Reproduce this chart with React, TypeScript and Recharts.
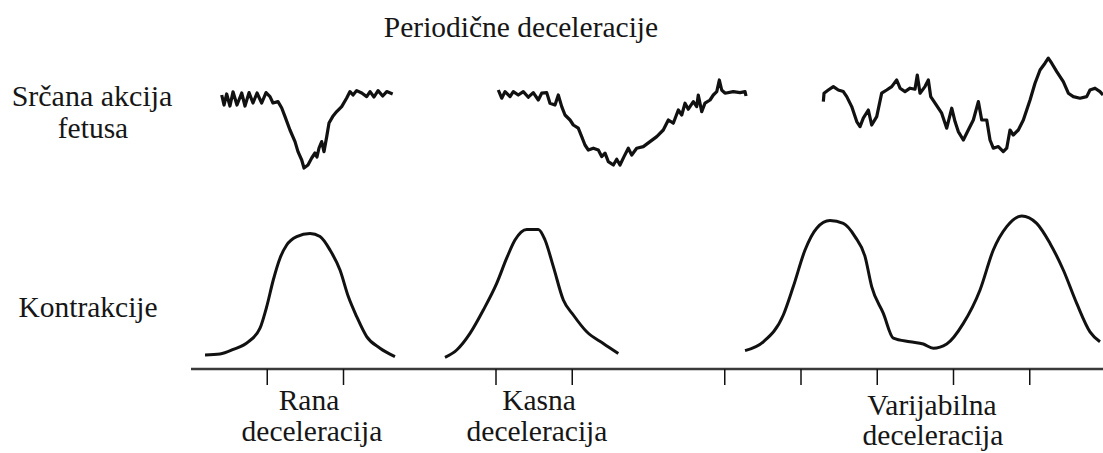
import React from "react";
import { LineChart, Line, XAxis, YAxis } from "recharts";

// x: time in tick units, y: heart rate (bpm) for FHR, pressure for contractions
const ranaFhrX = [0.403,0.433,0.468,0.511,0.551,0.603,0.665,0.708,0.761,0.813,0.866,0.927,0.984,1.036,1.075,1.141,1.19,1.233,1.298,1.364,1.403,1.452,1.482,1.534,1.583,1.626,1.652,1.679,1.714,1.744,1.78,1.81,1.858,1.911,1.976,2.042,2.085,2.125,2.173,2.239,2.304,2.348,2.4,2.453,2.514,2.567,2.645];
const ranaFhrY = [137,132,137.5,131.5,138.6,132,138,131.5,138.2,133,138,133,138.2,136.2,133,133.7,130.5,126.2,119.5,113.7,108.7,104.5,100.5,102,105.5,108,106,110.5,113.7,108.7,116.2,123,126.2,128.7,131.2,135.5,138.7,137,139.2,138,136.2,138.7,136,139.2,136.5,138.7,137.5];

const kasnaFhrX = [4.03,4.075,4.118,4.184,4.227,4.292,4.358,4.424,4.489,4.555,4.599,4.665,4.708,4.774,4.817,4.862,4.905,4.971,5.014,5.079,5.124,5.167,5.211,5.276,5.342,5.386,5.43,5.473,5.539,5.583,5.626,5.679,5.735,5.78,5.845,5.932,6.02,6.108,6.194,6.26,6.325,6.391,6.436,6.479,6.522,6.588,6.632,6.653,6.698,6.741,6.807,6.85,6.895,6.929,6.96,7.003,7.112,7.2,7.266,7.279];
const kasnaFhrY = [139.5,135.4,138.7,136.2,138.7,137,138.7,135.9,138.2,134.5,137.9,138.2,132.9,132,137,131.2,127,124.5,122,120.4,116.2,112,109.5,110.4,109.5,106.2,107.9,103.7,102,104.9,102,106.2,110.4,107,110.4,111.2,113.7,116.2,119.5,124.5,122.9,129.5,127,132.9,129.9,133.7,131.2,137,128.7,132.9,134.5,137,138.7,144.5,139.5,137.9,138.7,138.2,138.7,136.5];

const varFhrX = [8.293,8.302,8.358,8.424,8.489,8.555,8.6,8.665,8.731,8.774,8.817,8.883,8.927,8.993,9.058,9.124,9.19,9.255,9.299,9.364,9.43,9.495,9.525,9.561,9.626,9.67,9.701,9.758,9.845,9.911,9.977,10.02,10.063,10.129,10.194,10.26,10.326,10.37,10.436,10.479,10.522,10.588,10.653,10.698,10.741,10.784,10.85,10.916,11.004,11.069,11.135,11.2,11.243,11.288,11.354,11.44,11.506,11.571,11.659,11.747,11.79,11.856,11.921,11.961];
const varFhrY = [133.7,137.9,139.5,141.2,139.5,138.7,136.2,131.2,123.7,121.2,125.4,129.5,122,126.2,137.9,139.5,141.2,144.5,140.4,138.7,140.4,139.9,147,137.9,141.2,144.5,136.2,132.9,127.9,120.4,130.4,123.7,118.7,114.5,119.5,124.5,133.7,124.5,124.5,114.5,110.4,111.2,108.7,110.4,119.5,117,119.5,124.5,134.5,142.9,149.5,152.9,155.4,152.9,148.7,143.7,137.9,136.2,135.4,136.2,139.5,140.4,138.7,137];

const ranaUcX = [0.184,0.38,0.555,0.751,0.905,0.993,1.079,1.167,1.255,1.386,1.561,1.692,1.823,1.954,2.063,2.173,2.304,2.479,2.675];
const ranaUcY = [3.5,3.75,4.9,6.8,10.2,15.6,22.25,27.7,31,33.1,33.9,33.1,29.75,24.75,18.1,13.1,8.1,5.2,3.1];

const kasnaUcX = [3.331,3.485,3.659,3.834,4.009,4.14,4.249,4.403,4.555,4.643,4.752,4.883,5.014,5.19,5.407,5.604];
const kasnaUcY = [2.9,4.75,8.9,14.75,21.4,27.7,32.25,34.9,34.9,32.25,25.6,17.25,13.5,9.3,6.4,3.9];

const varUcX = [7.266,7.506,7.768,7.899,8.053,8.206,8.38,8.555,8.708,8.84,8.927,9.08,9.211,9.43,9.604,9.735,9.911,10.129,10.348,10.522,10.698,10.895,11.091,11.266,11.44,11.616,11.79,11.921];
const varUcY = [4.6,6.8,13.5,20.6,29.75,35.2,37.1,36.4,33.1,28.1,20.6,13.9,7.7,6.8,6.25,5.2,6.25,11.4,19.75,29.75,35.6,38.25,36.4,31.4,24.75,16.4,9.3,6.8];

const axisTicks = [1, 2, 4, 5, 7, 8, 9, 10, 11];

const title = "Periodične deceleracije";
const rowLabels = ["Srčana akcija", "fetusa", "Kontrakcije"];
const groupLabels = [
  ["Rana", "deceleracija"],
  ["Kasna", "deceleracija"],
  ["Varijabilna", "deceleracija"],
];

const zip = (xs: number[], ys: number[]) => xs.map((x, i) => ({ x, y: ys[i] }));

const fhrSeries = [zip(ranaFhrX, ranaFhrY), zip(kasnaFhrX, kasnaFhrY), zip(varFhrX, varFhrY)];
const ucSeries = [zip(ranaUcX, ranaUcY), zip(kasnaUcX, kasnaUcY), zip(varUcX, varUcY)];

const FONT = "'Liberation Serif', 'Times New Roman', serif";
const INK = "#111";
const TXT = "#161616";

export default function App() {
  return (
    <div style={{ position: "absolute", left: 0, top: 0, background: "#fff" }}>
      <LineChart width={1106} height={453} margin={{ top: 0, right: 0, bottom: 54, left: 191 }}>
        <XAxis
          type="number"
          dataKey="x"
          domain={[0, 12]}
          ticks={axisTicks}
          allowDataOverflow
          height={30}
          axisLine={{ stroke: "#3a3a3a", strokeWidth: 2.5 }}
          tickLine={{ stroke: "#111", strokeWidth: 1.5 }}
          tickSize={16}
          tick={() => <g />}
        />
        <YAxis yAxisId="fhr" hide type="number" domain={[0, 184.5]} allowDataOverflow />
        <YAxis yAxisId="uc" hide type="number" domain={[0, 92.25]} allowDataOverflow />
        {fhrSeries.map((d, i) => (
          <Line
            key={"f" + i}
            yAxisId="fhr"
            data={d}
            dataKey="y"
            type="linear"
            stroke={INK}
            strokeWidth={3.2}
            strokeLinejoin="round"
            dot={false}
            isAnimationActive={false}
          />
        ))}
        {ucSeries.map((d, i) => (
          <Line
            key={"u" + i}
            yAxisId="uc"
            data={d}
            dataKey="y"
            type="monotone"
            stroke={INK}
            strokeWidth={3}
            dot={false}
            isAnimationActive={false}
          />
        ))}
        <text x={521} y={37} textAnchor="middle" fontFamily={FONT} fontSize={29.5} fill={TXT}>{title}</text>
        <text x={92} y={106} textAnchor="middle" fontFamily={FONT} fontSize={30} fill={TXT}>{rowLabels[0]}</text>
        <text x={93} y={138} textAnchor="middle" fontFamily={FONT} fontSize={29.5} fill={TXT}>{rowLabels[1]}</text>
        <text x={88} y={317} textAnchor="middle" fontFamily={FONT} fontSize={29.5} fill={TXT}>{rowLabels[2]}</text>
        <text x={309} y={410} textAnchor="middle" fontFamily={FONT} fontSize={29.5} fill={TXT}>{groupLabels[0][0]}</text>
        <text x={312} y={441} textAnchor="middle" fontFamily={FONT} fontSize={29.5} fill={TXT}>{groupLabels[0][1]}</text>
        <text x={539} y={410} textAnchor="middle" fontFamily={FONT} fontSize={29.5} fill={TXT}>{groupLabels[1][0]}</text>
        <text x={537} y={441} textAnchor="middle" fontFamily={FONT} fontSize={29.5} fill={TXT}>{groupLabels[1][1]}</text>
        <text x={932} y={415} textAnchor="middle" fontFamily={FONT} fontSize={29.5} fill={TXT}>{groupLabels[2][0]}</text>
        <text x={933} y={445} textAnchor="middle" fontFamily={FONT} fontSize={29.5} fill={TXT}>{groupLabels[2][1]}</text>
      </LineChart>
    </div>
  );
}
